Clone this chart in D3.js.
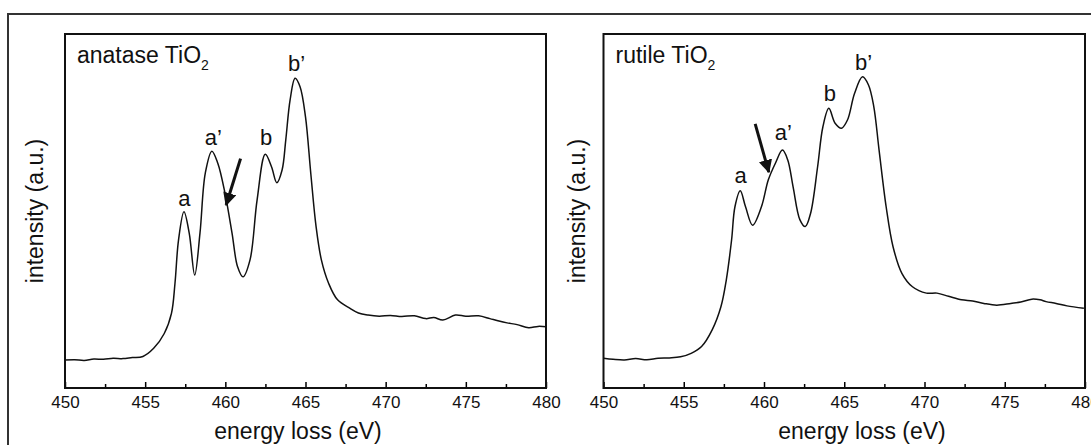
<!DOCTYPE html>
<html>
<head>
<meta charset="utf-8">
<script src="https://cdn.jsdelivr.net/npm/d3@7"></script>
<style>
body { margin: 0; background: #fff; }
text { font-family: "Liberation Sans", Arial, sans-serif; fill: #111; }
</style>
</head>
<body>
<script>
var w = 1091;
var h = 445;

// energy loss (eV) and intensity (a.u.)
var anataseE = [450, 450.6, 451.2, 451.8, 452.4, 453, 453.6, 454.2, 454.86, 455.53, 456.19, 456.64, 456.86, 457.08, 457.42, 457.75, 458.09, 458.42, 458.75, 459.16, 459.53, 459.98, 460.42, 460.76, 461.1, 461.54, 461.98, 462.49, 462.88, 463.21, 463.54, 463.77, 464.04, 464.35, 464.66, 465.0, 465.33, 465.66, 465.99, 466.44, 467.0, 467.78, 468.3, 468.9, 469.6, 470.3, 471.0, 471.79, 472.5, 473.0, 473.57, 474.35, 475.0, 475.8, 476.5, 477.0, 477.57, 478.2, 478.92, 479.5, 480];
var anataseI = [7.9, 8.0, 7.8, 8.2, 8.1, 8.4, 8.3, 8.6, 8.9, 11.2, 15.4, 21.1, 29.6, 41.8, 49.8, 43.7, 31.9, 43.8, 60.7, 66.9, 63.5, 55.0, 43.7, 34.3, 31.4, 36.2, 53.1, 66.0, 62.5, 58.0, 61.6, 70.1, 81.4, 87.5, 85.1, 76.6, 60.6, 45.6, 36.2, 29.6, 24.9, 22.5, 21.2, 20.6, 20.3, 20.5, 20.2, 20.4, 19.6, 19.9, 19.2, 20.6, 20.3, 20.4, 19.6, 19.0, 18.4, 17.9, 17.0, 17.4, 17.3];

var rutileE = [450, 450.6, 451.3, 452, 452.7, 453.4, 454.1, 454.8, 455.46, 456.11, 456.77, 457.32, 457.65, 457.98, 458.19, 458.52, 458.85, 459.29, 459.84, 460.27, 460.71, 461.15, 461.48, 461.81, 462.24, 462.57, 462.9, 463.34, 463.67, 464.04, 464.43, 464.83, 465.2, 465.64, 466.14, 466.51, 466.84, 467.17, 467.61, 468.04, 468.59, 469.25, 470.12, 470.78, 471.5, 472.31, 473.0, 473.7, 474.5, 475.38, 476.0, 476.69, 477.2, 477.57, 478.2, 478.88, 479.93];
var rutileI = [8.4, 8.1, 7.9, 8.3, 8.0, 8.4, 8.5, 8.8, 9.8, 11.7, 16.4, 23.0, 30.5, 41.8, 51.2, 55.7, 51.2, 46.0, 51.2, 58.8, 63.5, 67.2, 64.4, 56.9, 47.5, 45.6, 49.3, 62.5, 73.8, 79.0, 74.8, 73.4, 75.7, 83.2, 87.9, 85.6, 79.5, 67.2, 51.2, 39.9, 32.4, 28.6, 26.8, 26.8, 25.9, 24.9, 24.6, 23.9, 23.4, 23.9, 24.3, 25.1, 24.9, 24.4, 23.9, 23.2, 22.5];

var xTicks = [450, 455, 460, 465, 470, 475, 480];
var xMinor = [452.5, 457.5, 462.5, 467.5, 472.5, 477.5];

var panels = [
  {name: "anatase TiO", E: anataseE, I: anataseI, x0: 65, x1: 546, titleX: 298, yTitleX: 43,
   labels: [["a", 457.45, 51.4], ["a\u2019", 459.25, 68.6], ["b", 462.55, 68.6], ["b\u2019", 464.45, 89.6]],
   arrow: [[460.95, 64.8], [460.05, 51.7]]},
  {name: "rutile TiO", E: rutileE, I: rutileI, x0: 603.5, x1: 1085, titleX: 862, yTitleX: 585,
   labels: [["a", 458.55, 57.8], ["a\u2019", 461.2, 70], ["b", 464.1, 81], ["b\u2019", 466.2, 89.8]],
   arrow: [[459.45, 74.6], [460.3, 61]]}
];

var svg = d3.select("body").append("svg")
  .attr("width", w)
  .attr("height", h);

svg.append("defs").append("marker")
  .attr("id", "head")
  .attr("viewBox", "0 0 10 10")
  .attr("refX", 9).attr("refY", 5)
  .attr("markerWidth", 4.5).attr("markerHeight", 4.5)
  .attr("orient", "auto")
  .append("path").attr("d", "M0,0 L10,5 L0,10 z").attr("fill", "#111");

// outer frame
svg.append("rect")
  .attr("x", 8).attr("y", 14)
  .attr("width", w + 20).attr("height", h + 20)
  .attr("fill", "none").attr("stroke", "#333").attr("stroke-width", 2);

var plotTop = 34, plotBottom = 388;

panels.forEach(function(p) {
  var x = d3.scaleLinear().domain([450, 480]).range([p.x0, p.x1]);
  var y = d3.scaleLinear().domain([0, 100]).range([plotBottom, plotTop]);
  var g = svg.append("g");

  var line = d3.line()
    .x(function(d) { return x(d[0]); })
    .y(function(d) { return y(d[1]); })
    .curve(d3.curveCatmullRom.alpha(0.5));
  var pts = p.E.map(function(e, i) { return [e, p.I[i]]; });
  g.append("path").datum(pts)
    .attr("d", line)
    .attr("fill", "none").attr("stroke", "#111").attr("stroke-width", 1.5);

  // minor ticks
  g.append("g").attr("transform", "translate(0," + plotBottom + ")")
    .call(d3.axisBottom(x).tickValues(xMinor).tickSize(-4).tickFormat(""))
    .call(function(s) { s.select(".domain").remove(); s.selectAll("line").attr("stroke-width", 1.5); });

  var ax = g.append("g").attr("transform", "translate(0," + plotBottom + ")")
    .call(d3.axisBottom(x).tickValues(xTicks).tickSize(-6).tickPadding(8).tickFormat(d3.format("d")));
  ax.select(".domain").remove();
  ax.selectAll("line").attr("stroke-width", 1.5);
  ax.selectAll("text").attr("font-size", 17).attr("font-family", "Liberation Sans, Arial, sans-serif").attr("fill", "#111");

  g.append("rect")
    .attr("x", p.x0).attr("y", plotTop)
    .attr("width", p.x1 - p.x0).attr("height", plotBottom - plotTop)
    .attr("fill", "none").attr("stroke", "#111").attr("stroke-width", 2);

  var t = g.append("text").attr("x", p.x0 + 12).attr("y", 63).attr("font-size", 23).text(p.name);
  t.append("tspan").attr("dy", 7).attr("font-size", 14).text("2");

  g.append("text")
    .attr("x", p.titleX).attr("y", 439)
    .attr("text-anchor", "middle").attr("font-size", 23)
    .text("energy loss (eV)");

  g.append("text")
    .attr("transform", "translate(" + p.yTitleX + "," + ((plotTop + plotBottom) / 2) + ") rotate(-90)")
    .attr("text-anchor", "middle").attr("font-size", 23)
    .text("intensity (a.u.)");

  g.selectAll(".pk").data(p.labels).enter().append("text")
    .attr("x", function(d) { return x(d[1]); })
    .attr("y", function(d) { return y(d[2]); })
    .attr("text-anchor", "middle").attr("font-size", 22)
    .text(function(d) { return d[0]; });

  g.append("line")
    .attr("x1", x(p.arrow[0][0])).attr("y1", y(p.arrow[0][1]))
    .attr("x2", x(p.arrow[1][0])).attr("y2", y(p.arrow[1][1]))
    .attr("stroke", "#111").attr("stroke-width", 3)
    .attr("marker-end", "url(#head)");
});
</script>
</body>
</html>
